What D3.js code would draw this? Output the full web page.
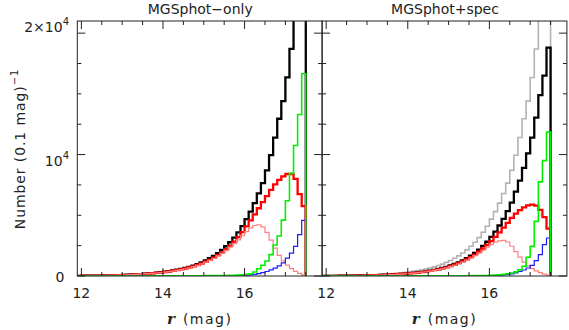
<!DOCTYPE html>
<html><head><meta charset="utf-8">
<script src="https://cdn.jsdelivr.net/npm/d3@7"></script>
<style>html,body{margin:0;padding:0;background:#fff;} svg{display:block;}</style>
</head><body><svg id="c" width="569" height="330"></svg>
<script>
// ---- data (bin start in r mag, 0.1 mag bins) ----
const bins = [11.9,12.0,12.1,12.2,12.3,12.4,12.5,12.6,12.7,12.8,12.9,
  13.0,13.1,13.2,13.3,13.4,13.5,13.6,13.7,13.8,13.9,
  14.0,14.1,14.2,14.3,14.4,14.5,14.6,14.7,14.8,14.9,
  15.0,15.1,15.2,15.3,15.4,15.5,15.6,15.7,15.8,15.9,
  16.0,16.1,16.2,16.3,16.4,16.5,16.6,16.7,16.8,16.9,
  17.0,17.1,17.2,17.3,17.4];
const binWidth = 0.1;

// MGSphot-only panel
const photTotal = [16,20,24,28,33,38,44,51,59,68,78,
  92,106,122,140,162,186,212,240,272,308,
  350,398,452,515,585,665,755,860,980,1120,
  1280,1460,1660,1890,2150,2450,2780,3160,3600,4100,
  4680,5300,6000,6800,7650,8700,9950,11400,12950,14400,
  16350,18700,22500,26000,30000];
const photRed = [15,19,23,27,31,36,42,48,56,64,74,
  87,100,115,132,152,175,199,225,255,289,
  328,372,422,480,545,618,700,795,905,1030,
  1175,1335,1515,1720,1950,2210,2500,2830,3200,3620,
  4080,4580,5080,5580,6080,6580,7100,7550,7920,8200,
  8400,8400,8000,6750,5750];
const photPink = [14,18,22,26,30,35,40,46,54,62,72,
  84,97,111,128,147,169,192,218,247,280,
  318,360,408,464,527,597,676,768,874,995,
  1135,1290,1460,1655,1870,2110,2370,2660,2980,3320,
  3660,3960,4160,4220,4050,3600,2950,2300,1700,1250,
  900,600,380,220,100];
const photGreen = [0,1,1,1,1,2,2,2,3,3,3,
  4,4,5,5,6,6,7,8,9,10,
  11,12,13,14,15,17,19,21,23,25,
  28,31,34,38,42,47,53,62,75,95,
  130,190,330,600,880,1230,1760,2550,3300,4600,
  6200,8450,10750,13300,16650];
const photBlue = [0,0,0,0,0,1,1,1,1,1,1,
  1,2,2,2,2,3,3,3,4,4,
  5,5,6,7,8,9,10,11,13,15,
  17,19,22,25,28,32,37,43,50,58,
  70,95,135,190,270,370,500,650,830,1080,
  1480,1890,2440,3400,4580];

// MGSphot+spec panel (grey = MGSphot-only total)
const specTotal = [10,13,15,18,21,24,28,32,37,43,50,
  58,67,77,89,103,118,135,155,177,202,
  230,262,298,340,388,443,505,578,660,755,
  865,990,1130,1290,1470,1670,1900,2170,2480,2820,
  3220,3660,4160,4710,5350,6050,6950,7850,8900,10100,
  11400,13050,14900,16500,18800];
const specRed = [9,12,14,17,20,23,27,31,35,41,48,
  55,64,74,85,98,112,128,147,168,192,
  218,248,282,322,367,418,477,545,622,710,
  812,928,1058,1205,1370,1555,1765,2000,2265,2560,
  2880,3220,3590,3980,4380,4780,5130,5420,5650,5820,
  5880,5800,5450,4850,3900];
const specPink = [9,11,13,16,19,22,26,30,34,39,46,
  53,61,71,82,94,108,123,141,161,184,
  209,238,271,309,352,401,458,522,596,680,
  777,887,1010,1150,1305,1475,1670,1890,2120,2370,
  2600,2780,2900,2930,2800,2450,2000,1550,1150,850,
  600,420,270,160,70];
const specGreen = [0,0,1,1,1,1,1,1,2,2,2,
  2,2,3,3,3,4,4,5,5,6,
  6,7,8,9,10,11,12,13,14,15,
  17,19,21,23,25,28,31,35,40,46,
  55,70,95,130,180,250,350,520,800,1540,
  2440,4500,7750,9500,11850];
const specBlue = [0,0,0,0,0,0,1,1,1,1,1,
  1,1,1,1,2,2,2,2,2,3,
  3,3,4,4,5,5,6,7,8,9,
  10,11,12,14,16,18,20,23,27,32,
  38,46,62,90,130,180,250,380,494,660,
  880,1260,1760,2580,3130];

const panelTitles = ["MGSphot\u2212only", "MGSphot+spec"];
const xMajorTicks = [12, 14, 16];
const xMinorTicks = [12.5, 13, 13.5, 14.5, 15, 15.5, 16.5, 17, 17.5];
const yMajorTicks = [0, 10000, 20000];
const yMinorTicks = [2500, 5000, 7500, 12500, 15000, 17500];

// ---- layout ----
const svg = d3.select("#c");
const FONT = "DejaVu Sans, Verdana, sans-serif";
const TXT = "#222";
const plotTop = 21, plotBottom = 276;
const panelW = 244.8;
const panelX = [77.3, 77.3 + panelW];
const yScale = d3.scaleLinear().domain([0, 21000]).range([plotBottom, plotTop]);

const panels = [
  {title: panelTitles[0], series: [
    {v: photTotal, c: "#000000", w: 2.3},
    {v: photRed, c: "#ff0000", w: 2.3},
    {v: photPink, c: "#ff7f7f", w: 1.2},
    {v: photBlue, c: "#1a1aff", w: 1.2},
    {v: photGreen, c: "#00f000", w: 1.6}]},
  {title: panelTitles[1], series: [
    {v: photTotal, c: "#b3b3b3", w: 1.6},
    {v: specTotal, c: "#000000", w: 2.3},
    {v: specRed, c: "#ff0000", w: 2.3},
    {v: specPink, c: "#ff7f7f", w: 1.2},
    {v: specBlue, c: "#1a1aff", w: 1.2},
    {v: specGreen, c: "#00f000", w: 1.6}]}
];

function stepPoints(vals) {
  const pts = [[bins[0], 0]];
  vals.forEach((v, i) => { pts.push([bins[i], v]); pts.push([bins[i] + binWidth, v]); });
  pts.push([bins[bins.length - 1] + binWidth, 0]);
  return pts;
}

panels.forEach((p, pi) => {
  const x0 = panelX[pi];
  const xScale = d3.scaleLinear().domain([11.9, 17.9]).range([x0, x0 + panelW]);
  const g = svg.append("g");
  const cid = "clip" + pi;
  svg.append("clipPath").attr("id", cid).append("rect")
    .attr("x", x0).attr("y", plotTop).attr("width", panelW).attr("height", plotBottom - plotTop);
  const line = d3.line().x(d => xScale(d[0])).y(d => yScale(d[1]));
  const lg = g.append("g").attr("clip-path", `url(#${cid})`);
  p.series.forEach(s => {
    lg.append("path").attr("d", line(stepPoints(s.v)))
      .attr("fill", "none").attr("stroke", s.c).attr("stroke-width", s.w)
      .attr("stroke-linejoin", "miter");
  });

  // frame
  g.append("rect").attr("x", x0).attr("y", plotTop).attr("width", panelW).attr("height", plotBottom - plotTop)
    .attr("fill", "none").attr("stroke", "#222").attr("stroke-width", 1);

  // ticks (inward on all four sides)
  const tk = g.append("g").attr("stroke", "#222").attr("stroke-width", 1);
  const xTicksFn = (vals, len) => vals.forEach(v => {
    tk.append("line").attr("x1", xScale(v)).attr("x2", xScale(v)).attr("y1", plotBottom).attr("y2", plotBottom - len);
    tk.append("line").attr("x1", xScale(v)).attr("x2", xScale(v)).attr("y1", plotTop).attr("y2", plotTop + len);
  });
  xTicksFn(xMajorTicks, 8); xTicksFn(xMinorTicks, 4);
  const yTicksFn = (vals, len) => vals.forEach(v => {
    tk.append("line").attr("x1", x0).attr("x2", x0 + len).attr("y1", yScale(v)).attr("y2", yScale(v));
    tk.append("line").attr("x1", x0 + panelW).attr("x2", x0 + panelW - len).attr("y1", yScale(v)).attr("y2", yScale(v));
  });
  yTicksFn(yMajorTicks, 8); yTicksFn(yMinorTicks, 4);

  // x tick labels
  xMajorTicks.forEach(v => {
    g.append("text").attr("x", xScale(v)).attr("y", 298).attr("text-anchor", "middle")
      .attr("font-family", FONT).attr("font-size", 14).attr("fill", TXT).text(v);
  });

  // title
  g.append("text").attr("x", x0 + panelW / 2 + 0.5).attr("y", 14).attr("text-anchor", "middle")
    .attr("font-family", FONT).attr("font-size", 14).attr("fill", TXT).text(p.title);

  // x axis label: r (mag)
  const xl = g.append("text").attr("x", x0 + panelW / 2).attr("y", 324).attr("text-anchor", "middle")
    .attr("font-family", FONT).attr("font-size", 14).attr("fill", TXT);
  xl.append("tspan").attr("font-family", "DejaVu Serif, serif").attr("font-style", "italic")
    .attr("font-weight", "bold").attr("font-size", 15).text("r");
  xl.append("tspan").attr("dx", 8).attr("letter-spacing", 1.5).text("(mag)");
});

// y tick labels (left panel only)
const yl = svg.append("g").attr("font-family", FONT).attr("font-size", 14).attr("fill", TXT)
  .attr("text-anchor", "end");
yl.append("text").attr("x", 64.5).attr("y", yScale(0) + 6).text("0");
const t1 = yl.append("text").attr("x", 69).attr("y", yScale(10000) + 11);
t1.append("tspan").text("10");
t1.append("tspan").attr("font-size", 10).attr("dy", -7).text("4");
const t2 = yl.append("text").attr("x", 69).attr("y", yScale(20000) - 1);
t2.append("tspan").text("2\u00d710");
t2.append("tspan").attr("font-size", 10).attr("dy", -7).text("4");

// y axis title
const yTitle = svg.append("text").attr("transform", "translate(25,149) rotate(-90)")
  .attr("text-anchor", "middle").attr("font-family", FONT).attr("font-size", 14).attr("fill", TXT)
  .attr("letter-spacing", 0.9);
yTitle.append("tspan").text("Number (0.1 mag)");
yTitle.append("tspan").attr("font-size", 10).attr("dy", -7).text("\u22121");
</script></body></html>
